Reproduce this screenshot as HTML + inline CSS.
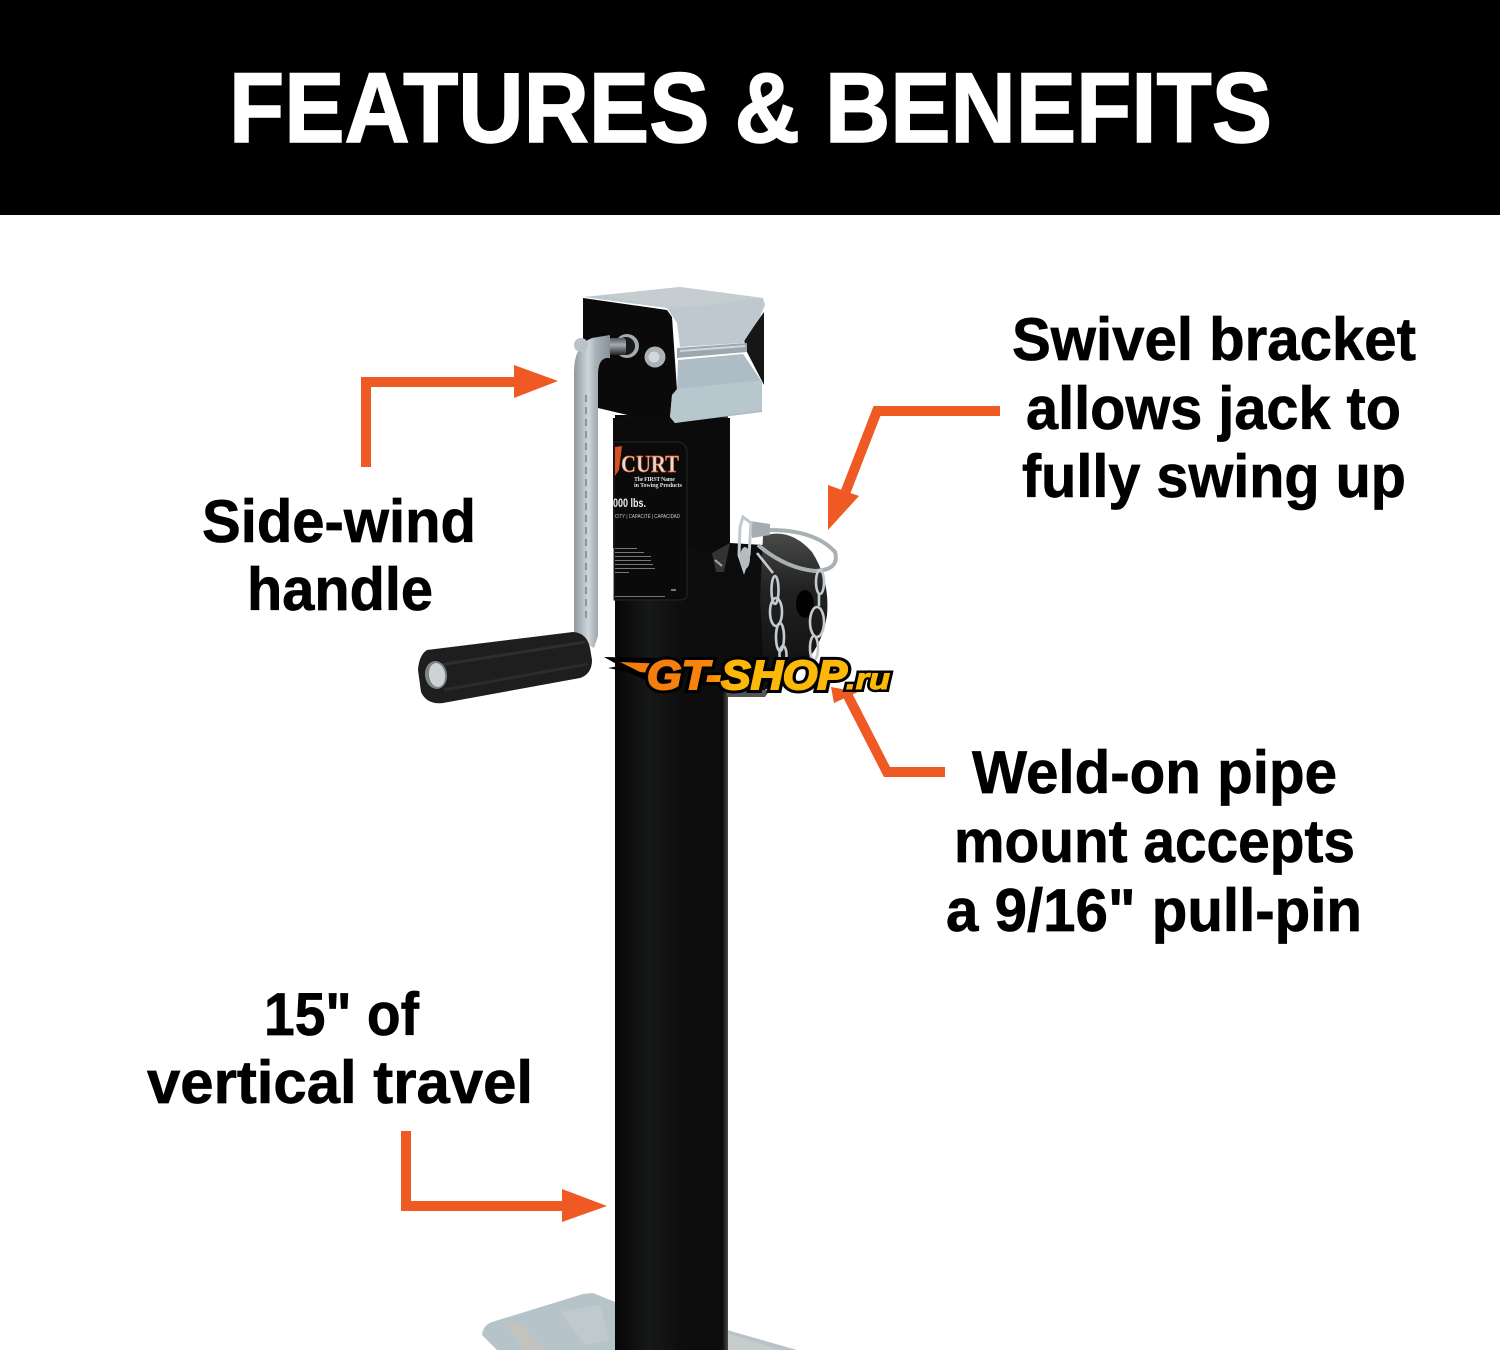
<!DOCTYPE html>
<html><head><meta charset="utf-8"><style>
html,body{margin:0;padding:0;background:#fff}
svg{display:block}
.h{font-family:"Liberation Sans",sans-serif;font-weight:700;fill:#000;stroke:#000;stroke-width:.7}
</style></head><body>
<svg width="1500" height="1350" viewBox="0 0 1500 1350" xmlns="http://www.w3.org/2000/svg">
<defs>
<linearGradient id="pipe" x1="0" x2="1" y1="0" y2="0">
<stop offset="0" stop-color="#060606"/><stop offset=".3" stop-color="#171819"/><stop offset=".6" stop-color="#0d0d0d"/><stop offset=".95" stop-color="#0c0c0c"/><stop offset="1" stop-color="#4a4a4a"/></linearGradient>
<linearGradient id="rod" x1="0" x2="1" y1="0" y2="0">
<stop offset="0" stop-color="#8f9aa0"/><stop offset=".4" stop-color="#cfd6da"/><stop offset=".6" stop-color="#a8b1b6"/><stop offset="1" stop-color="#87929a"/></linearGradient>
<linearGradient id="shaft" x1="0" x2="0" y1="0" y2="1">
<stop offset="0" stop-color="#555"/><stop offset=".4" stop-color="#a5adb2"/><stop offset="1" stop-color="#222"/></linearGradient>
<linearGradient id="logo" x1="0" x2="1" y1="0" y2="0">
<stop offset="0" stop-color="#f47c0e"/><stop offset=".32" stop-color="#f6860c"/><stop offset=".42" stop-color="#fdb90a"/><stop offset="1" stop-color="#fdb90a"/></linearGradient>
<linearGradient id="cyl" x1="0" x2="0" y1="0" y2="1">
<stop offset="0" stop-color="#4a4a4a"/><stop offset=".35" stop-color="#222"/><stop offset="1" stop-color="#0d0d0d"/></linearGradient>
</defs>
<rect width="1500" height="1350" fill="#fff"/>
<rect width="1500" height="215" fill="#000"/>
<text x="229" y="142" font-family="Liberation Sans,sans-serif" font-weight="700" fill="#fff" stroke="#fff" stroke-width="1.5" font-size="99" textLength="1043" lengthAdjust="spacingAndGlyphs">FEATURES &amp; BENEFITS</text>

<!-- base plate -->
<path d="M593 1293L620 1304V1335L727 1330L797 1350H497L482 1335Q483 1325 492 1322L583 1294Z" fill="#b6c3c9"/>
<path d="M505 1325L520 1322L545 1350H525Z" fill="#c2c3bc"/>
<path d="M560 1312L600 1305L610 1340L585 1345Z" fill="#c0c9cb"/>
<path d="M727 1333L780 1350H727Z" fill="#c6cccb"/>

<!-- pipe -->
<rect x="615" y="415" width="113" height="935" fill="url(#pipe)"/>
<rect x="613" y="418" width="117" height="130" fill="#0b0b0b"/>

<!-- CURT label -->
<path d="M614 442H678Q686 443 687 452V596Q686 600 680 600H614Z" fill="#0a0a0a" stroke="#262626"/>
<path d="M615 447L622 446L619 470L615 476Z" fill="#d8501c"/>
<text x="621" y="472" font-family="Liberation Serif,serif" font-weight="700" font-size="24" fill="#ddd" stroke="#d8501c" stroke-width=".7" textLength="58" lengthAdjust="spacingAndGlyphs">CURT</text>
<text x="634" y="481" font-family="Liberation Serif,serif" font-weight="700" font-size="6" fill="#ddd" textLength="41">The FIRST Name</text>
<text x="634" y="487" font-family="Liberation Serif,serif" font-weight="700" font-size="6" fill="#ddd" textLength="48">in Towing Products</text>
<text x="613" y="507" font-family="Liberation Sans,sans-serif" font-weight="700" font-size="12" fill="#eee" textLength="33" lengthAdjust="spacingAndGlyphs">000 lbs.</text>
<text x="615" y="518" font-family="Liberation Sans,sans-serif" font-size="5.5" fill="#ccc" textLength="65" lengthAdjust="spacingAndGlyphs">CITY | CAPACITÉ | CAPACIDAD</text>
<g fill="#777"><rect x="615" y="548" width="22" height="1"/><rect x="615" y="552" width="29" height="1"/><rect x="615" y="556" width="36" height="1"/><rect x="615" y="560" width="36" height="1"/><rect x="615" y="564" width="38" height="1"/><rect x="615" y="568" width="40" height="1"/><rect x="615" y="572" width="14" height="1"/><rect x="615" y="596" width="50" height="1"/><rect x="671" y="589" width="5" height="2"/></g>

<!-- bracket plate -->
<path d="M583 298L667 310L672 317L677 390L672 395L672 421L640 418L598 408L583 340Z" fill="#0a0a0a"/>
<!-- saddle -->
<path d="M744 340L764 312L764 385L747 352Z" fill="#161616"/>
<path d="M583 297L603 295L680 287L763 298L765 305L760 317L743 343L680 347L677 323L667 308Z" fill="#bec9cf"/>
<path d="M603 295L680 287L763 298L740 300L720 304L667 308Z" fill="#c6cdd1"/>
<path d="M677 348L747 343V352L677 358Z" fill="#9da8ae"/>
<path d="M680 351L745 346" stroke="#d0d7da" stroke-width="2"/>
<path d="M678 360L743 354L762 382L762 412L675 423L670 417L672 395L677 390Z" fill="#aebcc5"/>
<path d="M677 389L762 380V410L675 423L670 417L672 395Z" fill="#b8c6ce"/>

<!-- shaft, washer, bolt -->
<circle cx="627" cy="346" r="12" fill="#a3acb1"/><circle cx="626" cy="346" r="9" fill="#1a1a1a"/>
<rect x="600" y="338" width="26" height="17" rx="3" fill="url(#shaft)"/>
<circle cx="655" cy="357" r="10.5" fill="#a8b2b7"/><circle cx="654" cy="357" r="5.5" fill="#d2d8db"/>

<!-- handle rod -->
<path d="M574 632V372Q574 345 592 338L610 335V358H606Q598 360 598 375V636L594 648L580 640Z" fill="url(#rod)"/>
<ellipse cx="581" cy="345" rx="7" ry="7" fill="#b9c2c7"/>
<path d="M586 395V620" stroke="#8c969b" stroke-width="2" stroke-dasharray="7 5"/>

<!-- grip -->
<path d="M427 650L573 632Q587 633 590 648L592 660Q592 674 580 678L443 703Q427 705 421 692L418 670Q419 655 427 650Z" fill="#1e1e1e"/>
<path d="M440 665L585 642" stroke="#2e2e2e" stroke-width="3"/>
<path d="M444 690L588 664" stroke="#2b2b2b" stroke-width="3"/>
<ellipse cx="436" cy="675" rx="11" ry="14" fill="#7e8387" transform="rotate(-8 436 675)"/>
<ellipse cx="437" cy="675" rx="8" ry="12" fill="#cdd2d5" transform="rotate(-8 437 675)"/>

<!-- pipe mount -->
<path d="M712 552L730 543L763 545L765 692L728 690L712 690Z" fill="#0c0c0c"/>
<path d="M712 553L730 543L724 572L716 572Z" fill="#333"/>
<path d="M715 560L722 566" stroke="#aaa" stroke-width="2"/>
<path d="M763 536Q790 527 812 552Q830 580 827 615Q822 650 795 672L765 690L760 600Z" fill="url(#cyl)"/>
<path d="M727 690H770L765 697H727Z" fill="#555"/>
<ellipse cx="805" cy="604" rx="9" ry="14" fill="#020202"/>
<!-- pin & ring -->
<path d="M750 521L770 524V535L752 538Z" fill="#a5adb1"/>
<path d="M770 530Q815 530 835 552Q840 570 815 571Q785 568 758 545" fill="none" stroke="#a9b1b5" stroke-width="4"/>
<path d="M743 517L751 523L749 555L744 570L739 555L740 527Z" fill="none" stroke="#c2c9cd" stroke-width="3"/>
<ellipse cx="745" cy="558" rx="5" ry="11" fill="#b5bcc0"/>
<!-- chains -->
<g fill="none" stroke="#c3cbd0" stroke-width="2.6">
<path d="M757 553L773 573"/><ellipse cx="775" cy="590" rx="3.5" ry="14"/><ellipse cx="776" cy="612" rx="6" ry="14"/><ellipse cx="780" cy="637" rx="4" ry="14"/><ellipse cx="783" cy="655" rx="3.5" ry="9"/>
<ellipse cx="820" cy="582" rx="4" ry="12"/><ellipse cx="817" cy="622" rx="7" ry="15"/><ellipse cx="814" cy="648" rx="4" ry="12"/><path d="M819 594V606"/>
</g>

<!-- arrows -->
<g fill="none" stroke="#ef5a24" stroke-width="10">
<path d="M366 467V382H520"/>
<path d="M1000 411H877L844 496"/>
<path d="M945 772H887L848 696"/>
<path d="M406 1131V1206H566"/>
</g>
<g fill="#ef5a24">
<path d="M514 365L558 381L514 398Z"/>
<path d="M828 485L859 496L828 530Z"/>
<path d="M831 687L834 703L858 692Z"/>
<path d="M562 1189L607 1206L562 1222Z"/>
</g>

<!-- logo -->
<path d="M604 657L660 658L672 672L660 692L645 680L628 672L608 668L620 666Z" fill="#000"/>
<path d="M620 662L665 664L660 674L640 672Z" fill="#f47c0e"/>
<text x="647" y="689" font-family="Liberation Sans,sans-serif" font-weight="700" font-style="italic" font-size="41" fill="#000" stroke="#000" stroke-width="8" stroke-linejoin="miter" textLength="200" lengthAdjust="spacingAndGlyphs">GT-SHOP</text>
<text x="647" y="689" font-family="Liberation Sans,sans-serif" font-weight="700" font-style="italic" font-size="41" fill="url(#logo)" stroke="url(#logo)" stroke-width="2" textLength="200" lengthAdjust="spacingAndGlyphs">GT-SHOP</text>
<text x="846" y="689" font-family="Liberation Sans,sans-serif" font-weight="700" font-style="italic" font-size="30" fill="#000" stroke="#000" stroke-width="6" stroke-linejoin="miter" textLength="44" lengthAdjust="spacingAndGlyphs">.ru</text>
<text x="846" y="689" font-family="Liberation Sans,sans-serif" font-weight="700" font-style="italic" font-size="30" fill="#fdb90a" stroke="#fdb90a" stroke-width="1" textLength="44" lengthAdjust="spacingAndGlyphs">.ru</text>

<!-- labels -->
<text class="h" x="1012" y="360" font-size="60" textLength="404" lengthAdjust="spacingAndGlyphs">Swivel bracket</text>
<text class="h" x="1026" y="429" font-size="60" textLength="375" lengthAdjust="spacingAndGlyphs">allows jack to</text>
<text class="h" x="1022" y="497" font-size="60" textLength="384" lengthAdjust="spacingAndGlyphs">fully swing up</text>
<text class="h" x="202" y="542" font-size="60" textLength="274" lengthAdjust="spacingAndGlyphs">Side-wind</text>
<text class="h" x="247" y="610" font-size="60" textLength="186" lengthAdjust="spacingAndGlyphs">handle</text>
<text class="h" x="972" y="793" font-size="60" textLength="365" lengthAdjust="spacingAndGlyphs">Weld-on pipe</text>
<text class="h" x="954" y="862" font-size="60" textLength="401" lengthAdjust="spacingAndGlyphs">mount accepts</text>
<text class="h" x="946" y="931" font-size="60" textLength="416" lengthAdjust="spacingAndGlyphs">a 9/16" pull-pin</text>
<text class="h" x="264" y="1035" font-size="60" textLength="155" lengthAdjust="spacingAndGlyphs">15" of</text>
<text class="h" x="147" y="1103" font-size="60" textLength="386" lengthAdjust="spacingAndGlyphs">vertical travel</text>
</svg>
</body></html>
